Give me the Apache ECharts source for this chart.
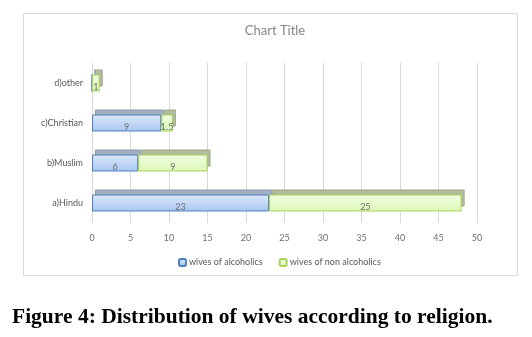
<!DOCTYPE html>
<html>
<head>
<meta charset="utf-8">
<script src="https://cdn.jsdelivr.net/npm/echarts@6/dist/echarts.min.js"></script>
<style>
  html, body { margin: 0; padding: 0; background: #ffffff; }
  #chart { width: 532px; height: 337px; }
</style>
</head>
<body>
<div id="chart"></div>
<script>
const religions = ['a)Hindu', 'b)Muslim', 'c)Christian', 'd)other']
const alcoholics = [23, 6, 9, 0]
const nonAlcoholics = [25, 9, 1.5, 1]
const seriesNames = ['wives of alcoholics', 'wives of non alcoholics']

const myChart = echarts.init(document.getElementById('chart'))

const labelStyle = {
  show: true,
  position: 'inside',
  offset: [0, 4],
  fontFamily: 'Lato',
  fontSize: 9,
  color: '#6f6f6f',
  formatter: function (p) { return p.value > 0 ? p.value : '' }
}

// back copy of the bars, shifted up/right, gives the 3d top face
const depthAxis = {
  type: 'value', gridIndex: 1, min: 0, max: 50, interval: 5, show: false
}

myChart.setOption({
  backgroundColor: '#ffffff',
  animation: false,
  title: [
    {
      text: 'Chart Title',
      left: 270,
      top: 19,
      textAlign: 'center',
      textStyle: { fontFamily: 'Lato', fontSize: 13, fontWeight: 'normal', color: '#858585' }
    },
    {
      text: 'Figure 4: Distribution of wives according to religion.',
      left: 7,
      top: 301,
      textStyle: { fontFamily: 'Liberation Serif', fontSize: 21.5, fontWeight: 'bold', color: '#000000' }
    }
  ],
  graphic: [
    {
      type: 'rect',
      shape: { x: 23.5, y: 13.5, width: 494, height: 262 },
      style: { fill: 'none', stroke: '#d9d9d9', lineWidth: 1 },
      silent: true
    }
  ],
  legend: {
    data: seriesNames,
    left: 173,
    top: 253,
    itemWidth: 7,
    itemHeight: 7,
    itemGap: 16,
    textStyle: { fontFamily: 'Lato', fontSize: 9, color: '#595959', padding: [0, 0, 0, -2] }
  },
  grid: [
    { left: 92, right: 55, top: 63, bottom: 114 },
    { left: 95, right: 52, top: 58, bottom: 119 }
  ],
  xAxis: [
    {
      type: 'value',
      min: 0,
      max: 50,
      interval: 5,
      axisLine: { show: false },
      axisTick: { show: false },
      axisLabel: { margin: 11, fontFamily: 'Lato', fontSize: 9, color: '#6f6f6f' },
      splitLine: { show: true, lineStyle: { color: '#d9d9d9', width: 1 } }
    },
    depthAxis
  ],
  yAxis: [
    {
      type: 'category',
      data: religions,
      axisLine: { show: false },
      axisTick: { show: false },
      axisLabel: { margin: 9, fontFamily: 'Lato', fontSize: 9, color: '#595959' }
    },
    { type: 'category', gridIndex: 1, data: religions, show: false }
  ],
  series: [
    {
      name: 'depth1',
      type: 'bar',
      stack: 'depth',
      xAxisIndex: 1,
      yAxisIndex: 1,
      barWidth: 17,
      z: 1,
      silent: true,
      data: alcoholics,
      itemStyle: { color: '#a3afc2', borderColor: '#8e9bb0', borderWidth: 1 }
    },
    {
      name: 'depth2',
      type: 'bar',
      stack: 'depth',
      xAxisIndex: 1,
      yAxisIndex: 1,
      barWidth: 17,
      z: 1,
      silent: true,
      data: nonAlcoholics,
      itemStyle: { color: '#b3bb9f', borderColor: '#9aa884', borderWidth: 1 }
    },
    {
      name: seriesNames[0],
      type: 'bar',
      stack: 'total',
      barWidth: 17,
      z: 3,
      data: alcoholics,
      label: labelStyle,
      itemStyle: {
        color: new echarts.graphic.LinearGradient(0, 0, 0, 1, [
          { offset: 0, color: '#dde9fb' },
          { offset: 1, color: '#a9c6f0' }
        ]),
        borderColor: '#4f81bd',
        borderWidth: 1
      }
    },
    {
      name: seriesNames[1],
      type: 'bar',
      stack: 'total',
      barWidth: 17,
      z: 3,
      data: nonAlcoholics,
      label: labelStyle,
      itemStyle: {
        color: new echarts.graphic.LinearGradient(0, 0, 0, 1, [
          { offset: 0, color: '#f0fde0' },
          { offset: 1, color: '#ddf8b8' }
        ]),
        borderColor: '#a8d35a',
        borderWidth: 1
      }
    }
  ]
})
myChart.resize()
</script>
</body>
</html>
